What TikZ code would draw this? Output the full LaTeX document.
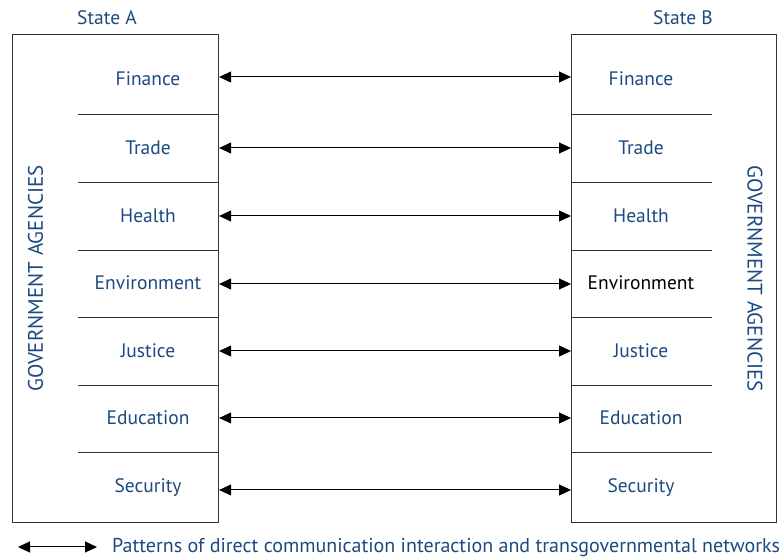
\documentclass[tikz,border=0pt]{standalone}
\usepackage{fontspec}
\setmainfont{PT Sans}
\usetikzlibrary{arrows.meta}
\definecolor{agencyblue}{RGB}{28,74,128}
\begin{document}
\begin{tikzpicture}[x=1pt, y=1pt, font=\fontsize{19.5}{23}\selectfont,
    box/.style={draw=black!80, line width=1.1pt},
    sep/.style={draw=black!80, line width=1pt},
    link/.style={{Triangle[length=12pt,width=11pt]}-{Triangle[length=12pt,width=11pt]}, line width=1pt},
    agency/.style={text=agencyblue, anchor=base}]
    \useasboundingbox (0,0) rectangle (780,560);

    % Kotak negara
    \node[box, anchor=south west, minimum width=206pt, minimum height=488pt, inner sep=0pt] (boxA) at (12,37.3) {};
    \node[box, anchor=south west, minimum width=205pt, minimum height=488pt, inner sep=0pt] (boxB) at (571,37.3) {};

    % Judul negara
    \node[text=agencyblue, anchor=base] (stateA) at (107,535) {State A};
    \node[text=agencyblue, anchor=base] (stateB) at (683,535) {State B};

    % Garis pemisah
    \foreach \y in {445, 377.3, 309.7, 242, 174.3, 107.3} {
        \draw[sep] (78,\y) -- (boxA.east |- 0,\y);
        \draw[sep] (boxB.west |- 0,\y) -- (712,\y);
    }

    % Lembaga dan panah
    \foreach \i/\name/\y/\ty/\col in {1/Finance/483/474/agencyblue, 2/Trade/412/405/agencyblue,
        3/Health/344/337/agencyblue, 4/Environment/276/270/black, 5/Justice/209/202/agencyblue,
        6/Education/142/135/agencyblue, 7/Security/70/67.5/agencyblue} {
        \node[agency] (agA-\i) at (148,\ty) {\name};
        \node[agency, text=\col] (agB-\i) at (641,\ty) {\name};
        \coordinate (endA-\i) at (boxA.east |- 0,\y);
        \coordinate (endB-\i) at (boxB.west |- 0,\y);
        \draw[link] (endA-\i) -- (endB-\i);
    }

    % Label samping
    \node[rotate=90, text=agencyblue, font=\fontsize{21}{24}\selectfont] (govA) at (35.5,281.5) {GOVERNMENT AGENCIES};
    \node[rotate=-90, text=agencyblue, font=\fontsize{21}{24}\selectfont] (govB) at (755,281.5) {GOVERNMENT AGENCIES};

    % Keterangan
    \coordinate (legL) at (18,13);
    \coordinate (legR) at (97,13);
    \draw[link] (legL) -- (legR);
    \node[text=agencyblue, anchor=base west, inner sep=0pt, font=\fontsize{20}{23}\selectfont] (legend) at (112,7) {Patterns of direct communication interaction and transgovernmental networks};
\end{tikzpicture}
\end{document}
